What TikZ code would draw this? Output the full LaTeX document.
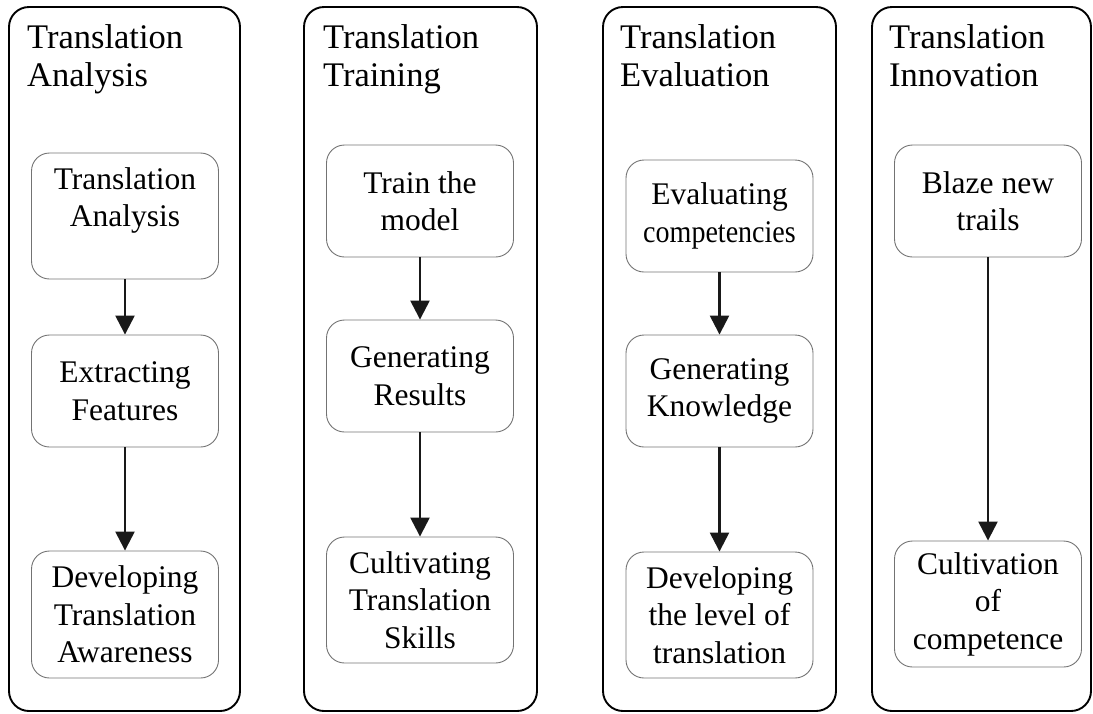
\documentclass[tikz,border=0pt]{standalone}
\usepackage{graphicx}
\usepackage{fontspec}
\setmainfont{Liberation Serif}
\usetikzlibrary{arrows.meta}
\begin{document}
\begin{tikzpicture}[x=1pt,y=-1pt,
  panel/.style={draw=black, line width=1.9pt, rounded corners=20pt, inner sep=0pt},
  inbox/.style={draw=black!55, line width=0.9pt, rounded corners=18pt,
    minimum width=187pt, inner sep=0pt, align=center, text=black,
    font=\fontsize{31.5}{37.5}\selectfont},
  ttl/.style={anchor=north west, align=left, inner sep=0pt, text=black,
    font=\fontsize{34.5}{38}\selectfont},
  flow/.style={line width=2.4pt, draw=black!90, -{Triangle[width=19pt,length=19pt]}}
]
\useasboundingbox (0,0) rectangle (1093,713);

% column frames
\node[panel, minimum width=231pt, minimum height=704pt] (p1) at (124.5,359) {};
\node[panel, minimum width=233pt, minimum height=704pt] (p2) at (420.5,359) {};
\node[panel, minimum width=233pt, minimum height=704pt] (p3) at (719.5,359) {};
\node[panel, minimum width=219pt, minimum height=704pt] (p4) at (981.5,359) {};

% column headings
\node[ttl] (t1) at (27,24.5) {Translation\\Analysis};
\node[ttl] (t2) at (323,24.5) {Translation\\Training};
\node[ttl] (t3) at (620,24.5) {Translation\\Evaluation};
\node[ttl] (t4) at (889,24.5) {Translation\\Innovation};

% analysis
\node[inbox, minimum height=126pt] (a1) at (125,216) {Translation\\Analysis\\\mbox{}};
\node[inbox, minimum height=112pt] (a2) at (125,391) {Extracting\\Features};
\node[inbox, minimum height=127pt] (a3) at (125,614.5) {Developing\\Translation\\Awareness};

% training
\node[inbox, minimum height=112pt] (b1) at (420,201) {Train the\\model};
\node[inbox, minimum height=112pt] (b2) at (420,376) {Generating\\Results};
\node[inbox, minimum height=126pt] (b3) at (420,600) {Cultivating\\Translation\\Skills};

% evaluation (the long word is set condensed to fit the box)
\node[inbox, minimum height=112pt] (c1) at (719.5,216) {Evaluating\\\scalebox{0.89}[1]{competencies}};
\node[inbox, minimum height=112pt] (c2) at (719.5,391) {Generating\\Knowledge};
\node[inbox, minimum height=126pt] (c3) at (719.5,615) {Developing\\the level of\\translation};

% innovation
\node[inbox, minimum height=112pt] (d1) at (988,201) {Blaze new\\trails};
\node[inbox, minimum height=126pt] (d2) at (988,604) {Cultivation\\of\\competence};

% flow arrows
\draw[flow] (a1) -- (a2);
\draw[flow] (a2) -- (a3);
\draw[flow] (b1) -- (b2);
\draw[flow] (b2) -- (b3);
\draw[flow] (c1) -- (c2);
\draw[flow] (c2) -- (c3);
\draw[flow] (d1) -- (d2);
\end{tikzpicture}
\end{document}
